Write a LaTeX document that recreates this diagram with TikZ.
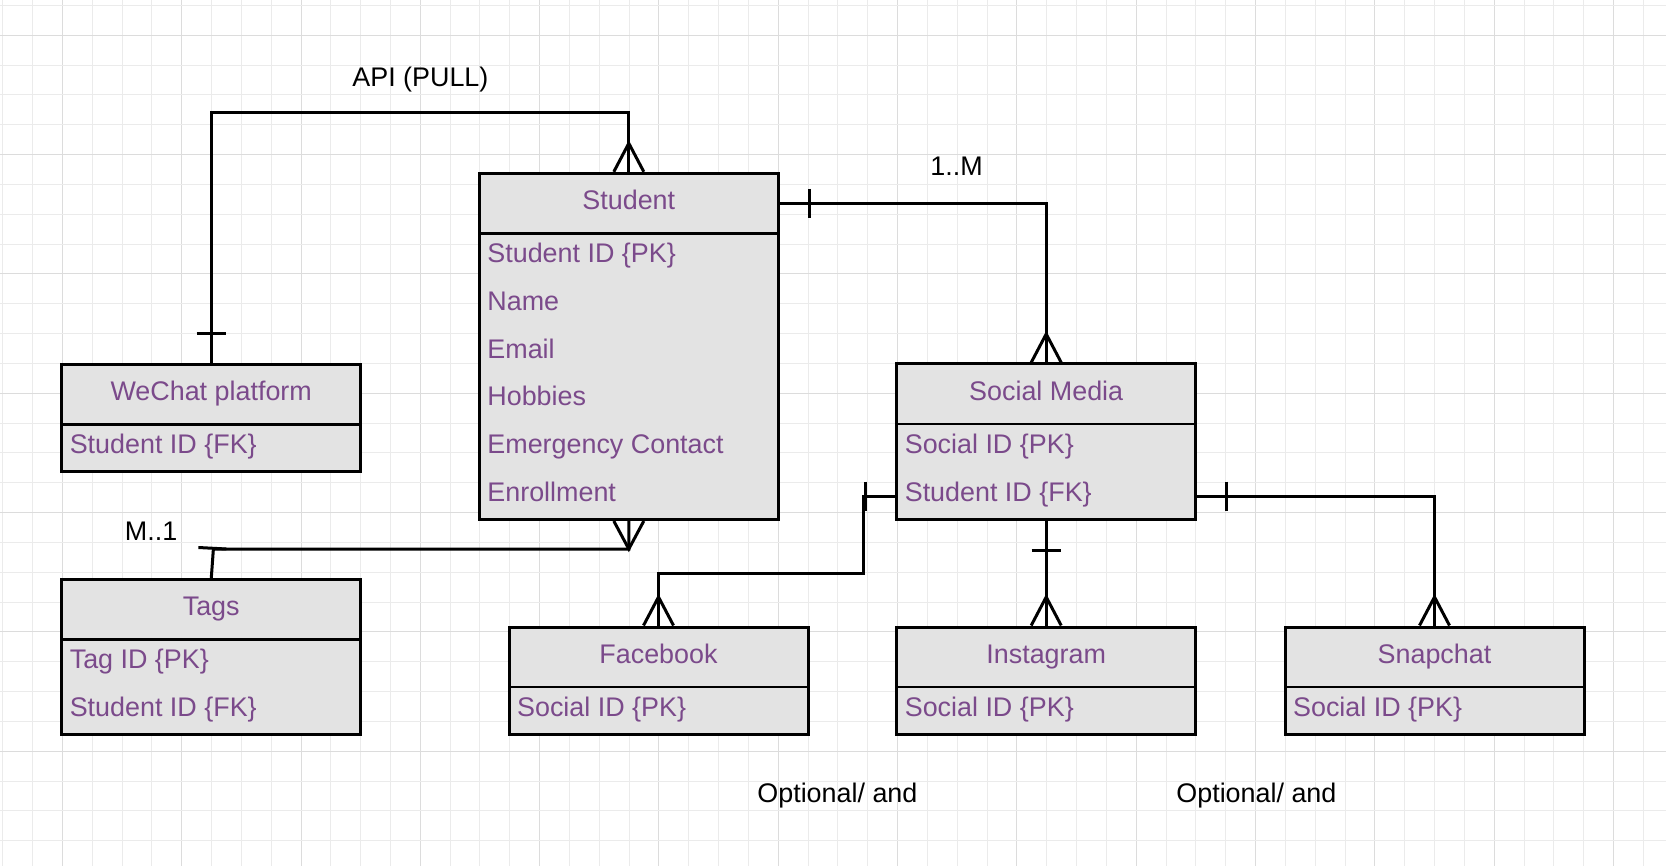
\documentclass[tikz,border=0pt]{standalone}
\usepackage{fontspec}
\setmainfont{Liberation Sans}
\usetikzlibrary{calc}
\definecolor{boxgray}{HTML}{E3E3E3}
\definecolor{txtpurple}{HTML}{7B4A8B}
\definecolor{gridminor}{HTML}{EBEBEB}
\definecolor{gridmajor}{HTML}{DCDCDC}
\tikzset{
  conn/.style={line width=1.5pt, line join=miter, draw=black},
  ebox/.style={draw=black, line width=1.5pt, fill=boxgray, anchor=north west,
    minimum width=149.5pt, inner sep=0pt, outer sep=0pt},
  divline/.style={line width=1.4pt, draw=black},
  etitle/.style={text=txtpurple, anchor=base, inner sep=0pt},
  erow/.style={text=txtpurple, anchor=base west, inner sep=0pt},
  lbl/.style={text=black, anchor=base west, inner sep=0pt},
  every node/.style={font=\fontsize{13.45pt}{16pt}\selectfont},
}
% crow's foot with apex above / below the anchor
\newcommand\mycrowup[1]{\draw[conn] ($(#1)+(-15,-1.5)$) -- ($(#1)+(0,-30)$) -- ($(#1)+(15,-1.5)$);}
\newcommand\mycrowdown[1]{\draw[conn] ($(#1)+(-15,1.5)$) -- ($(#1)+(0,29.5)$) -- ($(#1)+(15,1.5)$);}
% bar across a vertical line, at vertical offset #2
\newcommand\mybarh[2]{\draw[conn] ($(#1)+(-14.5,#2)$) -- ($(#1)+(14.5,#2)$);}
% bar across a horizontal line, at horizontal offset #2
\newcommand\mybarv[2]{\draw[conn] ($(#1)+(#2,-14.5)$) -- ($(#1)+(#2,14.5)$);}
% entity header divider + title
\newcommand\myhead[2]{%
  \draw[divline] ($(#1.north west)+(0,60)$) -- ($(#1.north east)+(0,60)$);
  \node[etitle] (#1title) at ($(#1.north)+(0,36.2)$) {#2};}
\begin{document}
\begin{tikzpicture}[x=0.5pt,y=-0.5pt]
\useasboundingbox (0,0) rectangle (1666,866);
\fill[white] (0,0) rectangle (1666,866);
% grid
\foreach \k in {0,...,55}{
  \pgfmathtruncatemacro\m{mod(\k,4)}
  \ifnum\m=2 \draw[gridmajor,line width=0.5pt] ({2.7+29.83*\k},0) -- ({2.7+29.83*\k},866);
  \else \draw[gridminor,line width=0.5pt] ({2.7+29.83*\k},0) -- ({2.7+29.83*\k},866);\fi
}
\foreach \k in {0,...,28}{
  \pgfmathtruncatemacro\m{mod(\k,4)}
  \ifnum\m=1 \draw[gridmajor,line width=0.5pt] (0,{5.5+29.83*\k}) -- (1666,{5.5+29.83*\k});
  \else \draw[gridminor,line width=0.5pt] (0,{5.5+29.83*\k}) -- (1666,{5.5+29.83*\k});\fi
}

% ---------- entities ----------
\node[ebox, minimum height=173.1pt] (student) at (479.3,173.3) {};
\myhead{student}{Student}
\foreach \t [count=\i from 0] in {Student ID \{PK\},Name,Email,Hobbies,Emergency Contact,Enrollment}
  \node[erow] (studentrow\i) at ($(student.north west)+(7.7,89.5+47.7*\i)$) {\t};

\node[ebox, minimum height=53.7pt] (wechat) at (61.7,364.3) {};
\myhead{wechat}{WeChat platform}
\node[erow] (wechatrow0) at ($(wechat.north west)+(7.7,89.5)$) {Student ID \{FK\}};

\node[ebox, minimum height=77.4pt] (tags) at (61.7,579.3) {};
\myhead{tags}{Tags}
\node[erow] (tagsrow0) at ($(tags.north west)+(7.7,89.5)$) {Tag ID \{PK\}};
\node[erow] (tagsrow1) at ($(tags.north west)+(7.7,137.2)$) {Student ID \{FK\}};

\node[ebox, minimum height=77.8pt] (social) at (896.7,364) {};
\myhead{social}{Social Media}
\node[erow] (socialrow0) at ($(social.north west)+(7.7,89.5)$) {Social ID \{PK\}};
\node[erow] (socialrow1) at ($(social.north west)+(7.7,137.2)$) {Student ID \{FK\}};

\node[ebox, minimum height=53.5pt] (facebook) at (509,627) {};
\myhead{facebook}{Facebook}
\node[erow] (facebookrow0) at ($(facebook.north west)+(7.7,89.5)$) {Social ID \{PK\}};

\node[ebox, minimum height=53.5pt] (instagram) at (896.7,627) {};
\myhead{instagram}{Instagram}
\node[erow] (instagramrow0) at ($(instagram.north west)+(7.7,89.5)$) {Social ID \{PK\}};

\node[ebox, minimum height=53.5pt] (snapchat) at (1285,627) {};
\myhead{snapchat}{Snapchat}
\node[erow] (snapchatrow0) at ($(snapchat.north west)+(7.7,89.5)$) {Social ID \{PK\}};

% ---------- connectors ----------
% WeChat -- Student (API)
\coordinate (apilevel) at (0,112.3);
\draw[conn] (wechat.north) -- (wechat.north |- apilevel) -- (student.north |- apilevel) -- (student.north);
\mybarh{wechat.north}{-31}
\mycrowup{student.north}

% Student -- Social Media (1..M)
\coordinate (stuE) at ($(student.north east)+(0,30)$);
\draw[conn] (stuE) -- (social.north |- stuE) -- (social.north);
\mybarv{stuE}{31}
\mycrowup{social.north}

% Tags -- Student (M..1)
\coordinate (tagcorner) at ($(tags.north)+(2.2,-30.3)$);
\draw[conn] (tags.north) -- (tagcorner) -- (student.south |- tagcorner) -- (student.south);
\draw[conn] ($(tags.north)+(-12.8,-31.8)$) -- ($(tags.north)+(15.2,-30.3)$);
\mycrowdown{student.south}

% Social Media -- Facebook
\coordinate (socW) at ($(social.north west)+(0,132)$);
\coordinate (fbturn) at (863,496);
\coordinate (fblevel) at (0,573.3);
\draw[conn] (socW) -- (fbturn) -- (fbturn |- fblevel) -- (facebook.north |- fblevel) -- (facebook.north);
\mybarv{socW}{-31}
\mycrowup{facebook.north}

% Social Media -- Instagram
\draw[conn] (social.south) -- (instagram.north);
\mybarh{social.south}{31}
\mycrowup{instagram.north}

% Social Media -- Snapchat
\coordinate (socE) at ($(social.north east)+(0,132)$);
\draw[conn] (socE) -- (snapchat.north |- socE) -- (snapchat.north);
\mybarv{socE}{31}
\mycrowup{snapchat.north}

% ---------- labels ----------
\node[lbl] (apilbl) at (352,86.7) {API (PULL)};
\node[lbl] (onemlbl) at (930,175.7) {1..M};
\node[lbl] (monelbl) at (124.5,540) {M..1};
\node[lbl] (opt1lbl) at (757,802) {Optional/ and};
\node[lbl] (opt2lbl) at (1176,802) {Optional/ and};
\end{tikzpicture}
\end{document}
